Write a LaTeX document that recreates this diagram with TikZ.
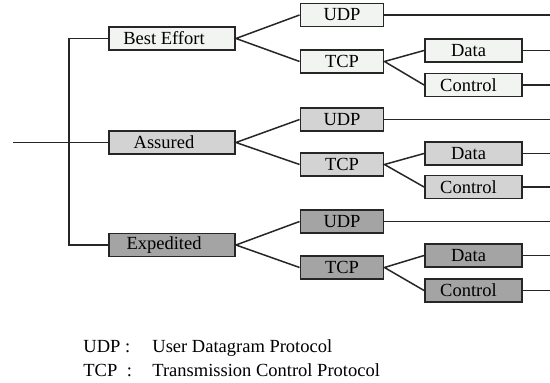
\documentclass[tikz,border=0pt]{standalone}
\usepackage{fontspec}
\setmainfont{Liberation Serif}
\usetikzlibrary{positioning}
\definecolor{BestFill}{HTML}{F2F4F2}
\definecolor{AssuredFill}{HTML}{D3D3D3}
\definecolor{ExpFill}{HTML}{A4A4A4}
\tikzset{
	QoS-Node/.style={rectangle,draw=black!85,line width=0.95pt,minimum height=11.5pt,inner sep=0pt,font=\fontsize{9.25}{11}\selectfont},
	Class-Node/.style={QoS-Node,minimum width=63pt,execute at begin node={\hspace*{-8pt}}},
	Proto-Node/.style={QoS-Node,minimum width=41.5pt},
	Flow-Node/.style={QoS-Node,minimum width=48.5pt,execute at begin node={\hspace*{-5pt}}},
	QoS-Line/.style={draw=black!85,line width=0.75pt},
	Key/.style={anchor=base west,inner sep=0pt,font=\fontsize{9.25}{11}\selectfont}
}

\begin{document}
\begin{tikzpicture}[x=0.5pt,y=-0.5pt]
	\useasboundingbox (0,0) rectangle (550,383);
	\coordinate (root) at (13,142.5);
	\coordinate (trunk) at (69,38.5);
	\coordinate (edge) at (550,0);
	% service classes
	\node [Class-Node,fill=BestFill] (best) at (172,38.5) {Best Effort};
	\node [Class-Node,fill=AssuredFill] (assured) at (172,142.5) {Assured};
	\node [Class-Node,fill=ExpFill] (exped) at (172,245) {Expedited};
	% best effort
	\node [Proto-Node,fill=BestFill] (best_udp) at (342,15) {UDP};
	\node [Proto-Node,fill=BestFill] (best_tcp) at (342,61.5) {TCP};
	\node [Flow-Node,fill=BestFill] (best_data) at (473.5,50.5) {Data};
	\node [Flow-Node,fill=BestFill] (best_ctrl) at (473.5,85) {Control};
	% assured
	\node [Proto-Node,fill=AssuredFill] (assured_udp) at (342,119.5) {UDP};
	\node [Proto-Node,fill=AssuredFill] (assured_tcp) at (342,164.5) {TCP};
	\node [Flow-Node,fill=AssuredFill] (assured_data) at (473.5,153.5) {Data};
	\node [Flow-Node,fill=AssuredFill] (assured_ctrl) at (473.5,187) {Control};
	% expedited
	\node [Proto-Node,fill=ExpFill] (exped_udp) at (342,221.5) {UDP};
	\node [Proto-Node,fill=ExpFill] (exped_tcp) at (342,267.5) {TCP};
	\node [Flow-Node,fill=ExpFill] (exped_data) at (473.5,255.5) {Data};
	\node [Flow-Node,fill=ExpFill] (exped_ctrl) at (473.5,290.5) {Control};
	% tree lines
	\draw [QoS-Line] (root) -- (assured.west);
	\draw [QoS-Line] (best.west) -- (trunk) |- (exped.west);
	\draw [QoS-Line] (best_udp.west) -- (best.east) -- (best_tcp.west);
	\draw [QoS-Line] (best_data.west) -- (best_tcp.east) -- (best_ctrl.west);
	\draw [QoS-Line] (assured_udp.west) -- (assured.east) -- (assured_tcp.west);
	\draw [QoS-Line] (assured_data.west) -- (assured_tcp.east) -- (assured_ctrl.west);
	\draw [QoS-Line] (exped_udp.west) -- (exped.east) -- (exped_tcp.west);
	\draw [QoS-Line] (exped_data.west) -- (exped_tcp.east) -- (exped_ctrl.west);
	% leaves running off to the right
	\draw [QoS-Line] (best_udp.east) -- (best_udp.east -| edge);
	\draw [QoS-Line] (best_data.east) -- (best_data.east -| edge);
	\draw [QoS-Line] (best_ctrl.east) -- (best_ctrl.east -| edge);
	\draw [QoS-Line] (assured_udp.east) -- (assured_udp.east -| edge);
	\draw [QoS-Line] (assured_data.east) -- (assured_data.east -| edge);
	\draw [QoS-Line] (assured_ctrl.east) -- (assured_ctrl.east -| edge);
	\draw [QoS-Line] (exped_udp.east) -- (exped_udp.east -| edge);
	\draw [QoS-Line] (exped_data.east) -- (exped_data.east -| edge);
	\draw [QoS-Line] (exped_ctrl.east) -- (exped_ctrl.east -| edge);
	% legend
	\node [Key] (udp_key) at (83,353) {UDP :};
	\node [Key] (udp_text) at (152,353) {User Datagram Protocol};
	\node [Key] (tcp_key) at (83,377) {TCP\hspace{2.5pt} :};
	\node [Key] (tcp_text) at (152,377) {Transmission Control Protocol};
\end{tikzpicture}
\end{document}
